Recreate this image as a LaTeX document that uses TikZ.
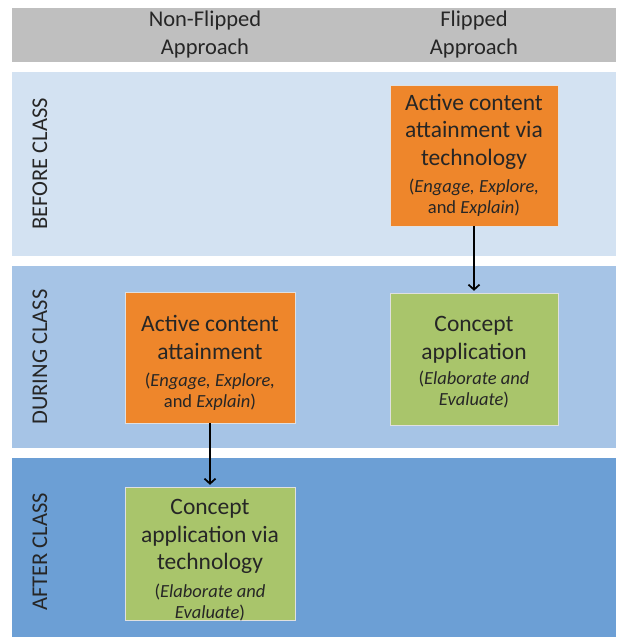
\documentclass[tikz,border=0pt]{standalone}
\usepackage{fontspec}
\setmainfont{Carlito}
\usetikzlibrary{arrows.meta}
\definecolor{hdrgray}{HTML}{BFBFBF}
\definecolor{bandA}{HTML}{D3E2F2}
\definecolor{bandB}{HTML}{A6C4E6}
\definecolor{bandC}{HTML}{6C9FD5}
\definecolor{boxorange}{HTML}{EE862B}
\definecolor{boxgreen}{HTML}{A9C56B}
\tikzset{
  bandlabel/.style={rotate=90, font=\fontsize{22.5}{26}\selectfont, text=black!85},
  hdr/.style={align=center, font=\fontsize{22.5}{28}\selectfont, text=black!85},
  box/.style={draw=black!12, line width=0.4pt, minimum width=168pt, inner sep=0pt},
  orangebox/.style={box, fill=boxorange},
  greenbox/.style={box, fill=boxgreen},
  boxtext/.style={align=center, font=\fontsize{23.5}{27.5}\selectfont, text=black!85, inner sep=0pt},
  flow/.style={-{Straight Barb[length=5pt,width=11pt,line width=1.7pt]}, line width=1.7pt, black, shorten >=2pt},
}
\newcommand{\smalltx}[1]{{\fontsize{18.5}{21}\selectfont #1}}
\begin{document}
\begin{tikzpicture}[x=1pt,y=-1pt]
\useasboundingbox (0,0) rectangle (621,637);
\fill[white] (0,0) rectangle (621,637);
% header band
\fill[hdrgray] (12,8) rectangle (616,62);
\node[hdr] (h1) at (205,35) {Non-Flipped\\Approach};
\node[hdr] (h2) at (474,35) {Flipped\\Approach};
% row bands
\fill[bandA] (12,72) rectangle (616,256);
\fill[bandB] (12,266) rectangle (616,448);
\fill[bandC] (12,458) rectangle (616,637);
\node[bandlabel] (l1) at (40,164) {BEFORE CLASS};
\node[bandlabel] (l2) at (40,357) {DURING CLASS};
\node[bandlabel] (l3) at (40,552) {AFTER CLASS};
% boxes
\node[orangebox, minimum height=141pt] (fb) at (474,155.5) {};
\node[boxtext] (fbt) at (474,155.5)
  {Active content\\attainment via\\technology\\\smalltx{(\textit{Engage, Explore,}}\\[-6.5pt]\smalltx{and \textit{Explain})}};
\node[greenbox, minimum height=132pt] (fd) at (474,359) {};
\node[boxtext] (fdt) at (474,362.5)
  {Concept\\application\\[-2pt]\smalltx{(\textit{Elaborate and}}\\[-6.5pt]\smalltx{\textit{Evaluate})}};
\node[orangebox, minimum height=131pt, minimum width=170pt] (nd) at (210,357.5) {};
\node[boxtext] (ndt) at (210,363)
  {Active content\\attainment\\\smalltx{(\textit{Engage, Explore,}}\\[-6.5pt]\smalltx{and \textit{Explain})}};
\node[greenbox, minimum height=133pt, minimum width=170pt] (na) at (210,553.5) {};
\node[boxtext] (nat) at (210,560)
  {Concept\\application via\\technology\\\smalltx{(\textit{Elaborate and}}\\[-6.5pt]\smalltx{\textit{Evaluate})}};
% connectors
\draw[flow] (fb.south) -- (fd.north);
\draw[flow] (nd.south) -- (na.north);
\end{tikzpicture}
\end{document}
